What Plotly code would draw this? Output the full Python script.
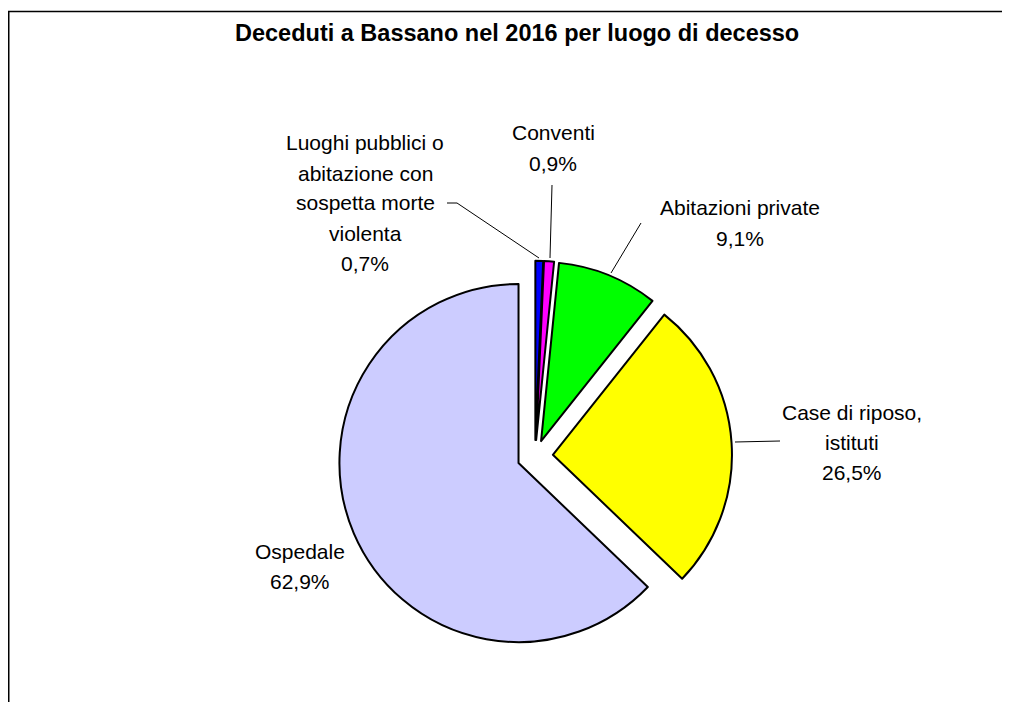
import plotly.graph_objects as go

W, H = 1010, 702
OFF = 8  # page body margin applied by the browser
FW, FH = W - OFF, H - OFF  # figure size so it fits exactly in the window

# ---- data ----
categories = [
    "Luoghi pubblici o abitazione con sospetta morte violenta",
    "Conventi",
    "Abitazioni private",
    "Case di riposo, istituti",
    "Ospedale",
]
values = [0.7, 0.9, 9.1, 26.5, 62.9]
value_labels = ["0,7%", "0,9%", "9,1%", "26,5%", "62,9%"]
label_lines = [
    ["Luoghi pubblici o", "abitazione con", "sospetta morte", "violenta"],
    ["Conventi"],
    ["Abitazioni private"],
    ["Case di riposo,", "istituti"],
    ["Ospedale"],
]
colors = ["#0000FF", "#FF00FF", "#00FF00", "#FFFF00", "#CCCCFF"]
pulls = [0.09, 0.09, 0.09, 0.1, 0.1]
title = "Deceduti a Bassano nel 2016 per luogo di decesso"

# label centres (page pixel) of first line, and leader line paths (page pixel)
label_pos = [(365, 143), (553, 133), (740, 208), (852, 412), (300, 551)]
leaders = [
    [(447, 203), (457, 203), (539, 258)],
    [(552, 185), (550, 258)],
    [(641, 223), (611, 273)],
    [(780, 441), (735, 442)],
    None,
]
LINE_H = 30


def px(x):
    return (x - OFF) / FW


def py(y):
    return 1 - (y - OFF) / FH


# pie domain (page pixel centre and half size)
cx, cy, half = 535, 456, 197

fig = go.Figure(
    go.Pie(
        labels=categories,
        values=values,
        sort=False,
        direction="clockwise",
        rotation=0,
        pull=pulls,
        marker=dict(colors=colors, line=dict(color="#000000", width=2)),
        textinfo="none",
        hoverinfo="label+percent",
        showlegend=False,
        domain=dict(x=[px(cx - half), px(cx + half)], y=[py(cy + half), py(cy - half)]),
    )
)

annotations = []
for lines, val, (lx, ly) in zip(label_lines, value_labels, label_pos):
    for i, t in enumerate(lines + [val]):
        annotations.append(
            dict(
                x=px(lx), y=py(ly + i * LINE_H), xref="paper", yref="paper",
                text=t, showarrow=False, xanchor="center", yanchor="middle",
                font=dict(family="Liberation Sans, Arial, sans-serif", size=21, color="#000000"),
            )
        )

annotations.append(
    dict(
        x=px(517), y=py(33), xref="paper", yref="paper",
        text="<b>" + title + "</b>", showarrow=False, xanchor="center", yanchor="middle",
        font=dict(family="Liberation Sans, Arial, sans-serif", size=23.5, color="#000000"),
    )
)

shapes = []
for path in leaders:
    if not path:
        continue
    d = "M " + " L ".join(f"{px(x)},{py(y)}" for x, y in path)
    shapes.append(dict(type="path", path=d, xref="paper", yref="paper",
                       line=dict(color="#000000", width=1)))

# chart area border (extends past right/bottom edges as in the reference)
shapes.append(dict(type="rect", xref="paper", yref="paper",
                   x0=0.75 / FW, y0=py(740), x1=px(1040), y1=py(11.5),
                   line=dict(color="#000000", width=1.5)))

fig.update_layout(
    width=FW, height=FH, autosize=False,
    margin=dict(l=0, r=0, t=0, b=0),
    paper_bgcolor="#FFFFFF", plot_bgcolor="#FFFFFF",
    annotations=annotations, shapes=shapes,
)

fig.write_html("out.html")
